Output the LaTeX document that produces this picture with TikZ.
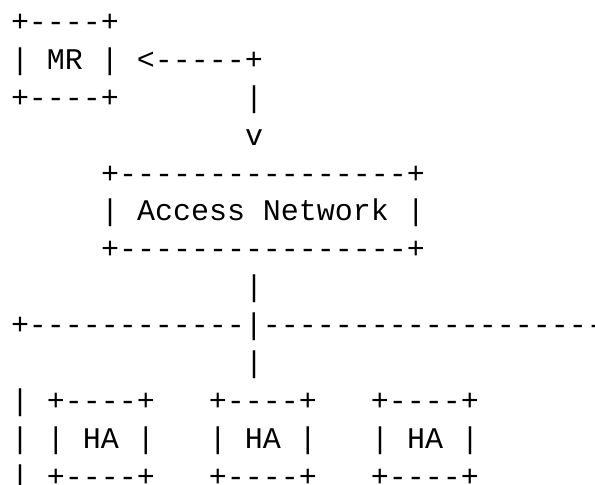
\documentclass[tikz,border=0pt]{standalone}
\usepackage{fontspec}
\setmonofont{Liberation Mono}
\usepackage{tikz}
\usetikzlibrary{positioning}

\tikzset{
  asciirow/.style={anchor=base west, inner sep=0pt, outer sep=0pt,
    font=\ttfamily\fontsize{30}{36}\selectfont}
}

\begin{document}
\begin{tikzpicture}[x=1pt, y=-1pt]
  \useasboundingbox (0,0) rectangle (595,485);
  \clip (0,0) rectangle (595,485);
  % mobile router and its link
  \node[asciirow] (mrtop)  at (11,31.4)  {+----+};
  \node[asciirow] (mrmid)  at (11,69.3)  {|~MR~|~<-----+};
  \node[asciirow] (mrbot)  at (11,107.2) {+----+~~~~~~~|};
  \node[asciirow] (arrow)  at (245,145.1) {v};
  % access network
  \node[asciirow] (nettop) at (101,183.0) {+----------------+};
  \node[asciirow] (netmid) at (101,220.9) {|~Access~Network~|};
  \node[asciirow] (netbot) at (101,258.8) {+----------------+};
  \node[asciirow] (stem)   at (245,296.7) {|};
  % home network
  \node[asciirow] (bus)    at (11,334.6)  {+------------|--------------------};
  \node[asciirow] (drop)   at (245,372.5) {|};
  \node[asciirow] (hatop)  at (11,410.4)  {|~+----+~~~+----+~~~+----+};
  \node[asciirow] (hamid)  at (11,448.3)  {|~|~HA~|~~~|~HA~|~~~|~HA~|};
  \node[asciirow] (habot)  at (11,486.2)  {|~+----+~~~+----+~~~+----+};
\end{tikzpicture}
\end{document}
